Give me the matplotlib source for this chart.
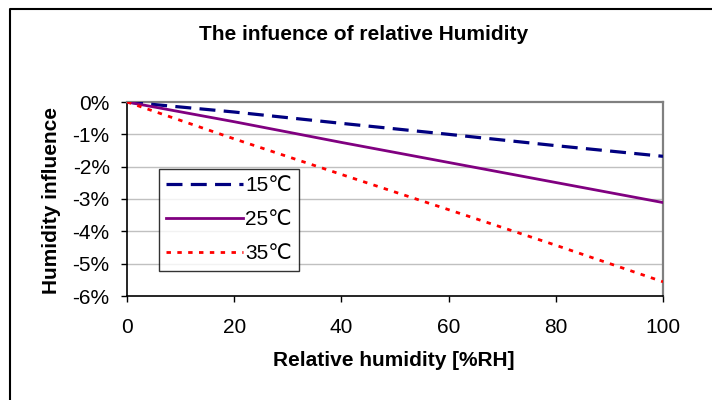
import matplotlib
matplotlib.use("Agg")
import matplotlib.pyplot as plt
from matplotlib.lines import Line2D
from matplotlib.ticker import FuncFormatter

plt.rcParams['font.family'] = ['Liberation Sans', 'DejaVu Sans']
plt.rcParams['axes.unicode_minus'] = False

# relative humidity [%RH]
rh = [0, 20, 40, 60, 80, 100]
# humidity influence in percent
infl_15 = [0, -0.31, -0.66, -1.00, -1.35, -1.68]
infl_25 = [0, -0.61, -1.25, -1.87, -2.49, -3.11]
infl_35 = [0, -1.14, -2.24, -3.33, -4.43, -5.56]
series_labels = ["15℃", "25℃", "35℃"]
y_ticks = [0, -1, -2, -3, -4, -5, -6]
x_ticks = [0, 20, 40, 60, 80, 100]

fig = plt.figure(figsize=(7.12, 4.0), dpi=100)
ax = fig.add_axes([127 / 712, 1 - 296 / 400, 536 / 712, 194 / 400])

# grid lines first so the curves sit on top
for yv in y_ticks[1:-1]:
    ax.axhline(yv, color="#c0c0c0", lw=1, zorder=1)

ax.plot(rh, infl_15, color="#000080", lw=2.3, dashes=(5, 2.6), label=series_labels[0], zorder=3)
ax.plot(rh, infl_25, color="#800080", lw=2.0, label=series_labels[1], zorder=3)
ax.plot(rh, infl_35, color="#ff0000", lw=2.0, dashes=(1.6, 2.3), label=series_labels[2], zorder=3)

ax.set_xlim(0, 100)
ax.set_ylim(-6, 0)
ax.set_xticks(x_ticks)
ax.set_yticks(y_ticks)
ax.yaxis.set_major_formatter(FuncFormatter(lambda v, p: "%d%%" % round(v)))

for s in ["top", "right"]:
    ax.spines[s].set_color("#808080")
    ax.spines[s].set_linewidth(1.6)
for s in ["left", "bottom"]:
    ax.spines[s].set_color("black")
    ax.spines[s].set_linewidth(1.2)

ax.tick_params(axis="both", direction="out", length=4.5, width=1, color="black", labelsize=15)
ax.tick_params(axis="y", pad=8)
ax.tick_params(axis="x", pad=11)

ax.set_xlabel("Relative humidity [%RH]", fontsize=15, fontweight="bold", va="center")
ax.xaxis.set_label_coords(0.497, -0.33)
ax.set_ylabel("Humidity influence", fontsize=15, fontweight="bold", va="center")
ax.yaxis.set_label_coords(-0.14, 0.49)

fig.text(0.51, 1 - 34 / 400, "The infuence of relative Humidity", fontsize=15,
         fontweight="bold", ha="center", va="center")

leg = ax.legend(loc="upper left", bbox_to_anchor=(0.0597, 0.6546), borderaxespad=0,
                fontsize=15, frameon=True, fancybox=False, handlelength=3.7,
                handletextpad=0.1, labelspacing=0.72, borderpad=0.35)
leg.get_frame().set_edgecolor("black")
leg.get_frame().set_linewidth(1.0)
leg.set_zorder(5)

# outer chart frame (left and top edges visible)
fig.add_artist(Line2D([10 / 712, 10 / 712, 1.0], [0.0, 1 - 9 / 400, 1 - 9 / 400],
                      transform=fig.transFigure, color="black", lw=1.5))

fig.savefig("out.png", dpi=100)
